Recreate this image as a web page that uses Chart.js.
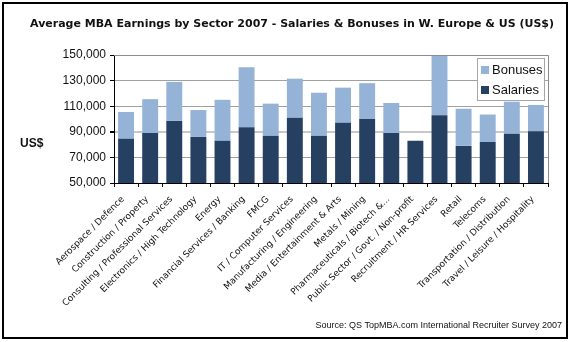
<!DOCTYPE html>
<html>
<head>
<meta charset="utf-8">
<script src="https://cdn.jsdelivr.net/npm/chart.js@4/dist/chart.umd.min.js"></script>
<style>
    html, body { margin: 0; padding: 0; background: #fff; }
    #wrap { width: 572px; height: 342px; }
</style>
</head>
<body>
<div id="wrap"><canvas id="chart" width="572" height="342"></canvas></div>
<script>
const sectors = [
    "Aerospace / Defence",
    "Construction / Property",
    "Consulting / Professional Services",
    "Electronics / High Technology",
    "Energy",
    "Financial Services / Banking",
    "FMCG",
    "IT / Computer Services",
    "Manufacturing / Engineering",
    "Media / Entertainment & Arts",
    "Metals / Mining",
    "Pharmaceuticals / Biotech &...",
    "Public Sector / Govt. / Non-profit",
    "Recruitment / HR Services",
    "Retail",
    "Telecoms",
    "Transportation / Distribution",
    "Travel / Leisure / Hospitality"
];
const salaries = [84500, 89000, 98500, 86000, 83000, 93500, 87000, 101000, 87000, 97000, 100000, 89000, 83000, 103000, 79000, 82000, 88500, 90500];
const bonuses = [21000, 26500, 30500, 21000, 32000, 47000, 25000, 30500, 33500, 27500, 28000, 23500, 0, 46500, 29000, 21500, 25000, 20500];
const yTicks = [50000, 70000, 90000, 110000, 130000, 150000];

const titleText = "Average MBA Earnings by Sector 2007 - Salaries & Bonuses in W. Europe & US (US$)";
const sourceText = "Source: QS TopMBA.com International Recruiter Survey 2007";

const SALARY_COLOR = "#254061";
const BONUS_COLOR = "#95b3d7";

// frame, title, axis label, legend box and source line
const decor = {
    id: "decor",
    beforeDraw(chart) {
        const ctx = chart.ctx;
        ctx.save();
        ctx.fillStyle = "#fff";
        ctx.fillRect(0, 0, chart.width, chart.height);
        ctx.restore();
    },
    afterDraw(chart) {
        const ctx = chart.ctx;
        const area = chart.chartArea;
        ctx.save();

        // plot frame top / right
        ctx.strokeStyle = "#8c8c8c";
        ctx.lineWidth = 1;
        ctx.beginPath();
        ctx.moveTo(area.left, area.top + 0.5);
        ctx.lineTo(area.right + 0.5, area.top + 0.5);
        ctx.lineTo(area.right + 0.5, area.bottom);
        ctx.stroke();

        // outer border
        ctx.strokeStyle = "#000";
        ctx.lineWidth = 2;
        ctx.strokeRect(3, 3, 564, 335);

        ctx.fillStyle = "#111";
        ctx.textBaseline = "middle";
        ctx.textAlign = "center";
        ctx.font = "bold 11px 'DejaVu Sans'";
        ctx.fillText(titleText, 292, 24);

        ctx.textAlign = "left";
        ctx.font = "bold 12px 'Liberation Sans'";
        ctx.fillText("US$", 20, 144);

        ctx.textAlign = "right";
        ctx.font = "9px 'Liberation Sans'";
        ctx.fillText(sourceText, 562, 326);

        // legend
        const lx = 477, ly = 58, lw = 67, lh = 42;
        ctx.fillStyle = "#fff";
        ctx.fillRect(lx, ly, lw, lh);
        ctx.strokeStyle = "#a6a6a6";
        ctx.lineWidth = 1;
        ctx.strokeRect(lx + 0.5, ly + 0.5, lw, lh);
        const items = [
            { label: chart.data.datasets[1].label, color: BONUS_COLOR },
            { label: chart.data.datasets[0].label, color: SALARY_COLOR }
        ];
        ctx.font = "13px 'Liberation Sans'";
        ctx.textAlign = "left";
        items.forEach((it, i) => {
            const cy = ly + 12 + i * 20;
            ctx.fillStyle = it.color;
            ctx.fillRect(lx + 4, cy - 4, 8, 8);
            ctx.fillStyle = "#111";
            ctx.fillText(it.label, lx + 15, cy);
        });
        ctx.restore();
    }
};

new Chart(document.getElementById("chart"), {
    type: "bar",
    data: {
        labels: sectors,
        datasets: [
            {
                label: "Salaries",
                data: salaries,
                backgroundColor: SALARY_COLOR,
                categoryPercentage: 1,
                barPercentage: 0.66
            },
            {
                label: "Bonuses",
                data: bonuses,
                backgroundColor: BONUS_COLOR,
                categoryPercentage: 1,
                barPercentage: 0.66
            }
        ]
    },
    options: {
        responsive: false,
        animation: false,
        layout: {
            padding: { top: 55, right: 24, left: 0, bottom: 0 }
        },
        plugins: {
            legend: { display: false },
            title: { display: false },
            tooltip: { enabled: false }
        },
        scales: {
            x: {
                stacked: true,
                grid: {
                    offset: true,
                    drawOnChartArea: false,
                    tickColor: "#000",
                    tickLength: 4
                },
                border: { color: "#000", width: 1 },
                ticks: {
                    autoSkip: false,
                    maxRotation: 45,
                    minRotation: 45,
                    padding: 7,
                    labelOffset: -3,
                    color: "#111",
                    font: { family: "'DejaVu Sans'", size: 9 }
                },
                afterFit(scale) {
                    scale.height = 159;
                }
            },
            y: {
                stacked: true,
                min: 50000,
                max: 150000,
                afterBuildTicks(scale) {
                    scale.ticks = yTicks.map(v => ({ value: v }));
                },
                grid: {
                    color: (c) => c.tick && c.tick.value === 90000 ? "#c8c8c8" : "#a0a0a0",
                    lineWidth: (c) => c.tick && c.tick.value === 90000 ? 2 : 1,
                    tickColor: "#000",
                    tickLength: 4
                },
                border: { color: "#000", width: 1 },
                ticks: {
                    color: "#111",
                    padding: 4,
                    font: { family: "'Liberation Sans'", size: 12 },
                    callback: (v) => v.toLocaleString("en-US")
                },
                afterFit(scale) {
                    scale.width = 114;
                }
            }
        }
    },
    plugins: [decor]
});
</script>
</body>
</html>
